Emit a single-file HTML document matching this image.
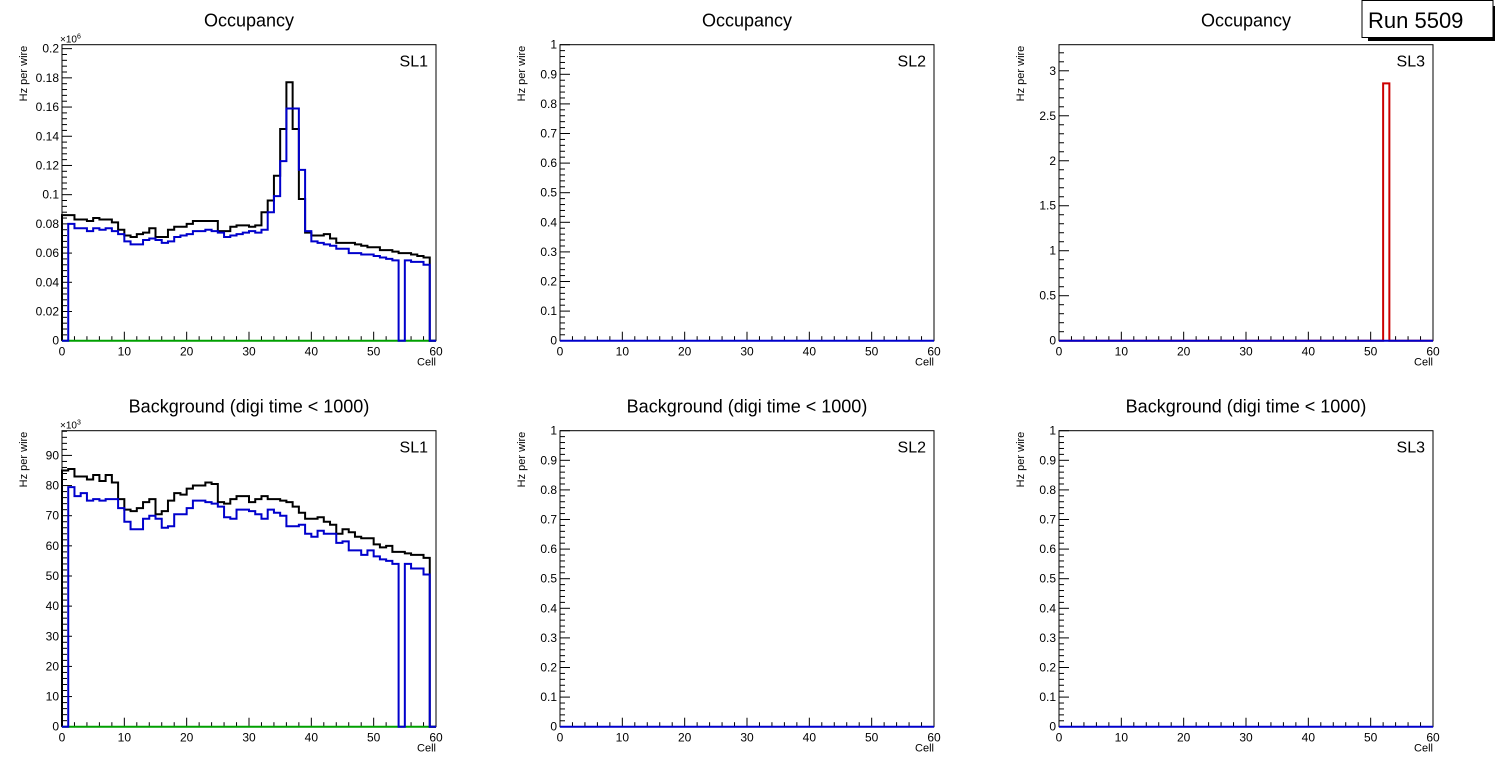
<!DOCTYPE html>
<html><head><meta charset="utf-8"><style>
html,body{margin:0;padding:0;background:#fff;}
svg{display:block;font-family:"Liberation Sans",Arial,sans-serif;}
</style></head><body>
<svg id="c" width="1496" height="772" viewBox="0 0 1496 772" xmlns="http://www.w3.org/2000/svg"></svg>
<script>
const cells = [0,10,20,30,40,50,60];
const occSL1Total = [0.086,0.086,0.083,0.083,0.082,0.084,0.083,0.083,0.081,0.076,0.072,0.071,0.073,0.074,0.077,0.071,0.071,0.076,0.078,0.078,0.080,0.082,0.082,0.082,0.082,0.075,0.075,0.078,0.079,0.079,0.078,0.079,0.088,0.096,0.113,0.145,0.177,0.145,0.097,0.074,0.072,0.072,0.073,0.070,0.067,0.067,0.067,0.066,0.065,0.064,0.064,0.062,0.062,0.061,0.060,0.060,0.059,0.058,0.057,0];
const occSL1Good = [0,0.080,0.077,0.077,0.075,0.077,0.076,0.077,0.075,0.073,0.068,0.066,0.066,0.069,0.070,0.069,0.067,0.068,0.071,0.072,0.073,0.075,0.075,0.076,0.075,0.074,0.071,0.072,0.073,0.074,0.075,0.074,0.076,0.088,0.099,0.123,0.159,0.159,0.117,0.075,0.068,0.067,0.066,0.065,0.063,0.063,0.060,0.060,0.059,0.059,0.058,0.057,0.056,0.055,0,0.055,0.054,0.054,0.052,0];
const bkgSL1Total = [85,85.5,83,83,82,83.5,81.5,83.5,81,75.5,72,71.5,72.5,74.5,75.5,70.5,71.5,75,77.5,77,79,80,80,81,80.5,74.5,74,75.5,76.5,76.5,74.5,75.5,76.5,75.5,75.5,75,74.5,73,71,69,69,69.5,68,67,64,65.5,64.5,63,62.5,62.5,60.5,59.5,60,58,58,57.5,57,57,56,0];
const bkgSL1Good = [0,79.5,76.5,77.5,75,75.5,75,75.5,75.5,72.5,68,65.5,65.5,69,70,69,66,66.5,70.5,70.5,72.5,75,75,74.5,74,73,69.5,69,72,72,71.5,70.5,69,72,71,70,66.5,66.5,67,64,63,65,64,64,61,61.5,58.5,58.5,57,58.5,56.5,55.5,55,54,0,54,52.5,52.5,50.5,0];
const occSL3Noisy = [0,0,0,0,0,0,0,0,0,0,0,0,0,0,0,0,0,0,0,0,0,0,0,0,0,0,0,0,0,0,0,0,0,0,0,0,0,0,0,0,0,0,0,0,0,0,0,0,0,0,0,0,2.86,0,0,0,0,0,0,0];
const zeros = new Array(60).fill(0);
const ticksOccSL1 = ["0","0.02","0.04","0.06","0.08","0.1","0.12","0.14","0.16","0.18","0.2"];
const ticksBkgSL1 = ["0","10","20","30","40","50","60","70","80","90"];
const ticksUnit = ["0","0.1","0.2","0.3","0.4","0.5","0.6","0.7","0.8","0.9","1"];
const ticksOccSL3 = ["0","0.5","1","1.5","2","2.5","3"];

const NS="http://www.w3.org/2000/svg";
const svg=document.getElementById('c');
function mk(tag,at,parent){const e=document.createElementNS(NS,tag);for(const k in at)e.setAttribute(k,at[k]);(parent||svg).appendChild(e);return e;}

function panel(o){
  const g=mk('g',{});
  
  
  const x0=o.x0,x1=o.x0+374,yb=o.yb,yt=o.yb-296;
  const X=v=>x0+(v-0)/60*(x1-x0);
  const Y=v=>yb-(v/o.ymax)*(yb-yt);
  const t=mk('text',{x:(x0+x1)/2,y:o.yb-314,'text-anchor':'middle','font-size':18},g);t.textContent=o.title;
  
  
  const fr=mk('rect',{x:x0,y:yt,width:x1-x0,height:yb-yt,fill:'none',stroke:'#000','stroke-width':1},g);
  
  
  for(let v=0;v<=60;v+=2){const maj=v%10===0;mk('line',{x1:X(v),x2:X(v),y1:yb,y2:yb-(maj?9:4.5),stroke:'#000','stroke-width':1},g);}
  cells.forEach(v=>{const l=mk('text',{x:X(v),y:yb+15,'text-anchor':'middle','font-size':12},g);l.textContent=v;
    
    });
  const xl=mk('text',{x:x1,y:yb+25,'text-anchor':'end','font-size':11},g);xl.textContent='Cell';
  
  
  const step=o.step, sub=step/o.nsub;
  for(let k=0;k*sub<=o.ymax+1e-9;k++){const v=k*sub;const maj=k%o.nsub===0;mk('line',{x1:x0,x2:x0+(maj?10:5),y1:Y(v),y2:Y(v),stroke:'#000','stroke-width':1},g);}
  o.ticks.forEach((s,i)=>{const l=mk('text',{x:x0-3,y:Y(i*step)+4,'text-anchor':'end','font-size':12},g);l.textContent=s;
    
    });
  const yl=mk('text',{transform:`translate(${x0-35},${yt+1}) rotate(-90)`,'text-anchor':'end','font-size':11},g);yl.textContent='Hz per wire';
  
  
  if(o.exp){const e=mk('text',{x:x0-2,y:yt-2,'font-size':10},g);e.innerHTML='×10<tspan font-size="7" dy="-4">'+o.exp+'</tspan>';
    
    }
  const sl=mk('text',{x:x1-8,y:yt+22,'text-anchor':'end','font-size':16},g);sl.textContent=o.sl;
  
  
  o.series.forEach(s=>{
    let d=`M${X(0)},${Y(0)}`;
    s.data.forEach((v,i)=>{d+=` L${X(i)},${Y(v)} L${X(i+1)},${Y(v)}`;});
    d+=` L${X(60)},${Y(0)}`;
    const p=mk('path',{d:d,fill:'none',stroke:s.color,'stroke-width':2},g);
    
    
  });
}
const topB=340.7, botB=726.7;
panel({name:'occupancy-sl1',x0:62,yb:topB,title:'Occupancy',ymax:0.2027,step:0.02,nsub:5,ticks:ticksOccSL1,exp:'6',sl:'SL1',
  series:[{name:'green-zero-line',color:'#00a000',data:zeros},{name:'total-hits-line',color:'#000',data:occSL1Total},{name:'good-hits-line',color:'#0000cc',data:occSL1Good}]});
panel({name:'occupancy-sl2',x0:560,yb:topB,title:'Occupancy',ymax:1,step:0.1,nsub:5,ticks:ticksUnit,sl:'SL2',
  series:[{name:'good-hits-line',color:'#0000cc',data:zeros}]});
panel({name:'occupancy-sl3',x0:1059,yb:topB,title:'Occupancy',ymax:3.29,step:0.5,nsub:5,ticks:ticksOccSL3,sl:'SL3',
  series:[{name:'noisy-cells-line',color:'#cc0000',data:occSL3Noisy},{name:'good-hits-line',color:'#0000cc',data:zeros}]});
panel({name:'background-sl1',x0:62,yb:botB,title:'Background (digi time < 1000)',ymax:98.2,step:10,nsub:5,ticks:ticksBkgSL1,exp:'3',sl:'SL1',
  series:[{name:'green-zero-line',color:'#00a000',data:zeros},{name:'total-hits-line',color:'#000',data:bkgSL1Total},{name:'good-hits-line',color:'#0000cc',data:bkgSL1Good}]});
panel({name:'background-sl2',x0:560,yb:botB,title:'Background (digi time < 1000)',ymax:1,step:0.1,nsub:5,ticks:ticksUnit,sl:'SL2',
  series:[{name:'good-hits-line',color:'#0000cc',data:zeros}]});
panel({name:'background-sl3',x0:1059,yb:botB,title:'Background (digi time < 1000)',ymax:1,step:0.1,nsub:5,ticks:ticksUnit,sl:'SL3',
  series:[{name:'good-hits-line',color:'#0000cc',data:zeros}]});
const rb=mk('g',{});


mk('rect',{x:1368,y:6,width:127,height:35,fill:'#000'},rb);
mk('rect',{x:1362,y:0.5,width:131,height:37,fill:'#fff',stroke:'#000','stroke-width':1},rb);
const rt=mk('text',{x:1368,y:28,'font-size':22},rb);rt.textContent='Run 5509';


</script>
</body></html>
